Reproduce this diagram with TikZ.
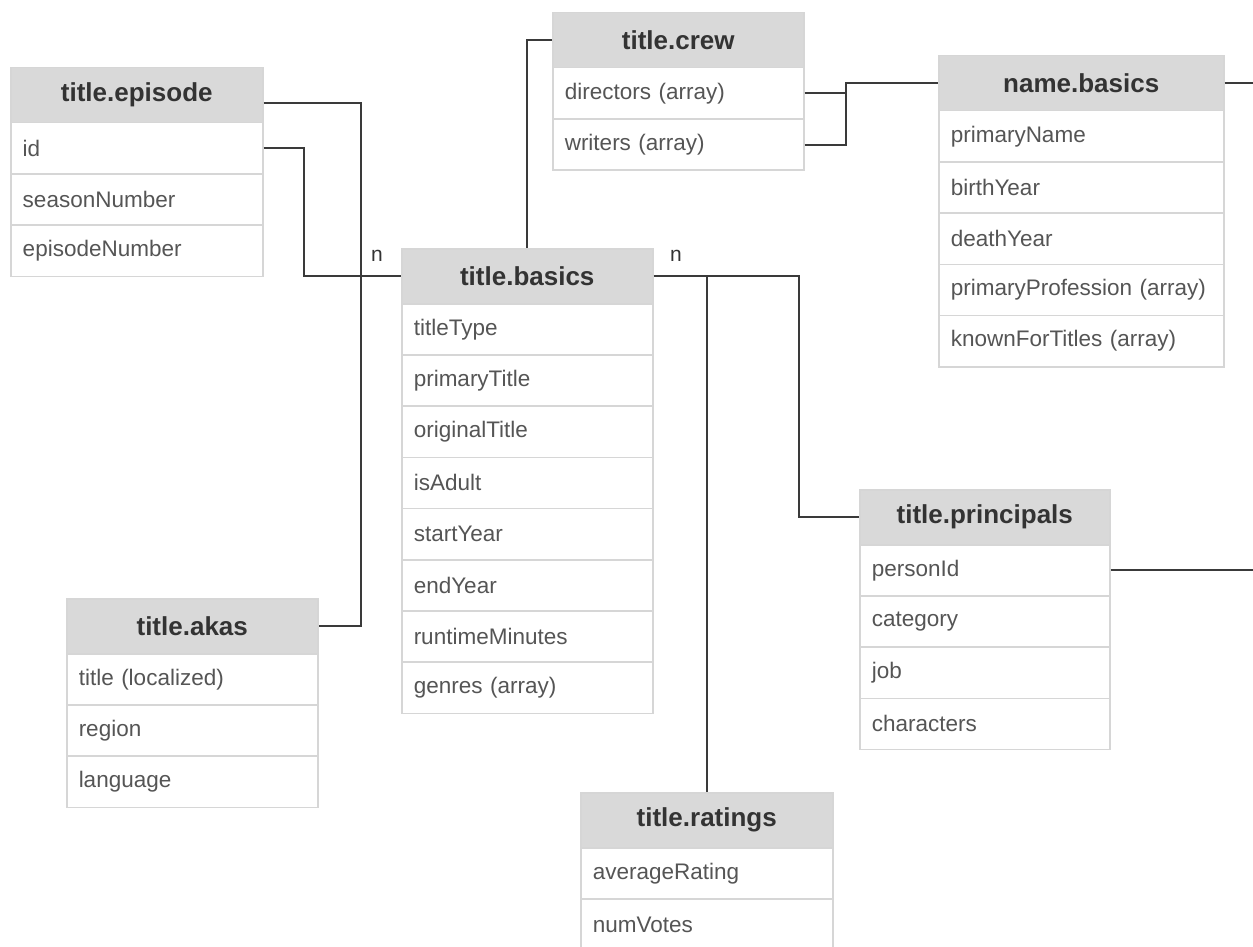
\documentclass[tikz,border=0pt]{standalone}
\usepackage{fontspec}
\setmainfont{Liberation Sans}
\definecolor{bordergray}{HTML}{D6D6D6}
\definecolor{hdrgray}{HTML}{D9D9D9}
\definecolor{hdrtext}{HTML}{333333}
\definecolor{rowtext}{HTML}{555555}
\definecolor{linecol}{HTML}{3A3A3A}
\tikzset{
  hdr/.style={draw=bordergray, line width=1.5pt, fill=hdrgray, text=hdrtext,
    font=\fontsize{26}{30}\selectfont\bfseries, minimum height=55pt,
    inner sep=0pt, anchor=north west},
  fieldrow/.style={draw=bordergray, line width=1.5pt, fill=white, text=rowtext,
    font=\fontsize{22.5}{27}\selectfont, minimum height=51.2pt,
    inner xsep=12pt, inner ysep=0pt, align=left, anchor=north west},
  conn/.style={draw=linecol, line width=2pt},
  lbl/.style={text=hdrtext, font=\fontsize{21}{25}\selectfont, inner sep=0pt}
}
\newcommand{\dbtab}[6]{%
  \pgfmathsetmacro{\tw}{#4-24}%
  \node[hdr, minimum width=#4pt] (#1) at (#2,#3) {#5};
  \foreach \r [count=\i] in {#6} {
    \node[fieldrow, minimum width=#4pt, text width=\tw pt] (#1-\i) at (#2,{#3+55+(\i-1)*51.2}) {\r};
  }
}
\begin{document}
\begin{tikzpicture}[x=1pt,y=-1pt]
\useasboundingbox[fill=white] (0,0) rectangle (1253,947);

\dbtab{ep}{10}{67}{252}{title.episode}{id,seasonNumber,episodeNumber}
\dbtab{cr}{552}{12}{251}{title.crew}{directors (array),writers (array)}
\dbtab{nb}{938}{55}{285}{name.basics}{primaryName,birthYear,deathYear,primaryProfession (array),knownForTitles (array)}
\dbtab{tb}{401}{248}{251}{title.basics}{titleType,primaryTitle,originalTitle,isAdult,startYear,endYear,runtimeMinutes,genres (array)}
\dbtab{ak}{66}{598}{251}{title.akas}{title (localized),region,language}
\dbtab{pr}{859}{489}{250}{title.principals}{personId,category,job,characters}
\dbtab{rt}{580}{792}{252}{title.ratings}{averageRating,numVotes}

\coordinate (nbout) at (1253,83);
\coordinate (prout) at (1253,569);

% connectors
\draw[conn] ([yshift=-8pt]ep.east) -- ++(97,0) |- (ak.east);
\draw[conn] (ep-1.east) -- ++(40,0) |- (tb.west);
\draw[conn] (cr.west) -- (tb.north |- cr.west) -- (tb.north);
\draw[conn] (cr-1.east) -- ++(41,0) |- (nb.west);
\draw[conn] (cr-2.east) -- ++(41,0) |- (nb.west);
\draw[conn] (nb.east) -- (nb.east -| nbout);
\draw[conn] (pr-1.east) -- (pr-1.east -| prout);
\draw[conn] (tb.east) -- ++(145,0) |- (pr.west);
\draw[conn] (tb.east -| rt.north) -- (rt.north);

\node[lbl] (n1) at (377,256) {n};
\node[lbl] (n2) at (676,256) {n};
\end{tikzpicture}
\end{document}
